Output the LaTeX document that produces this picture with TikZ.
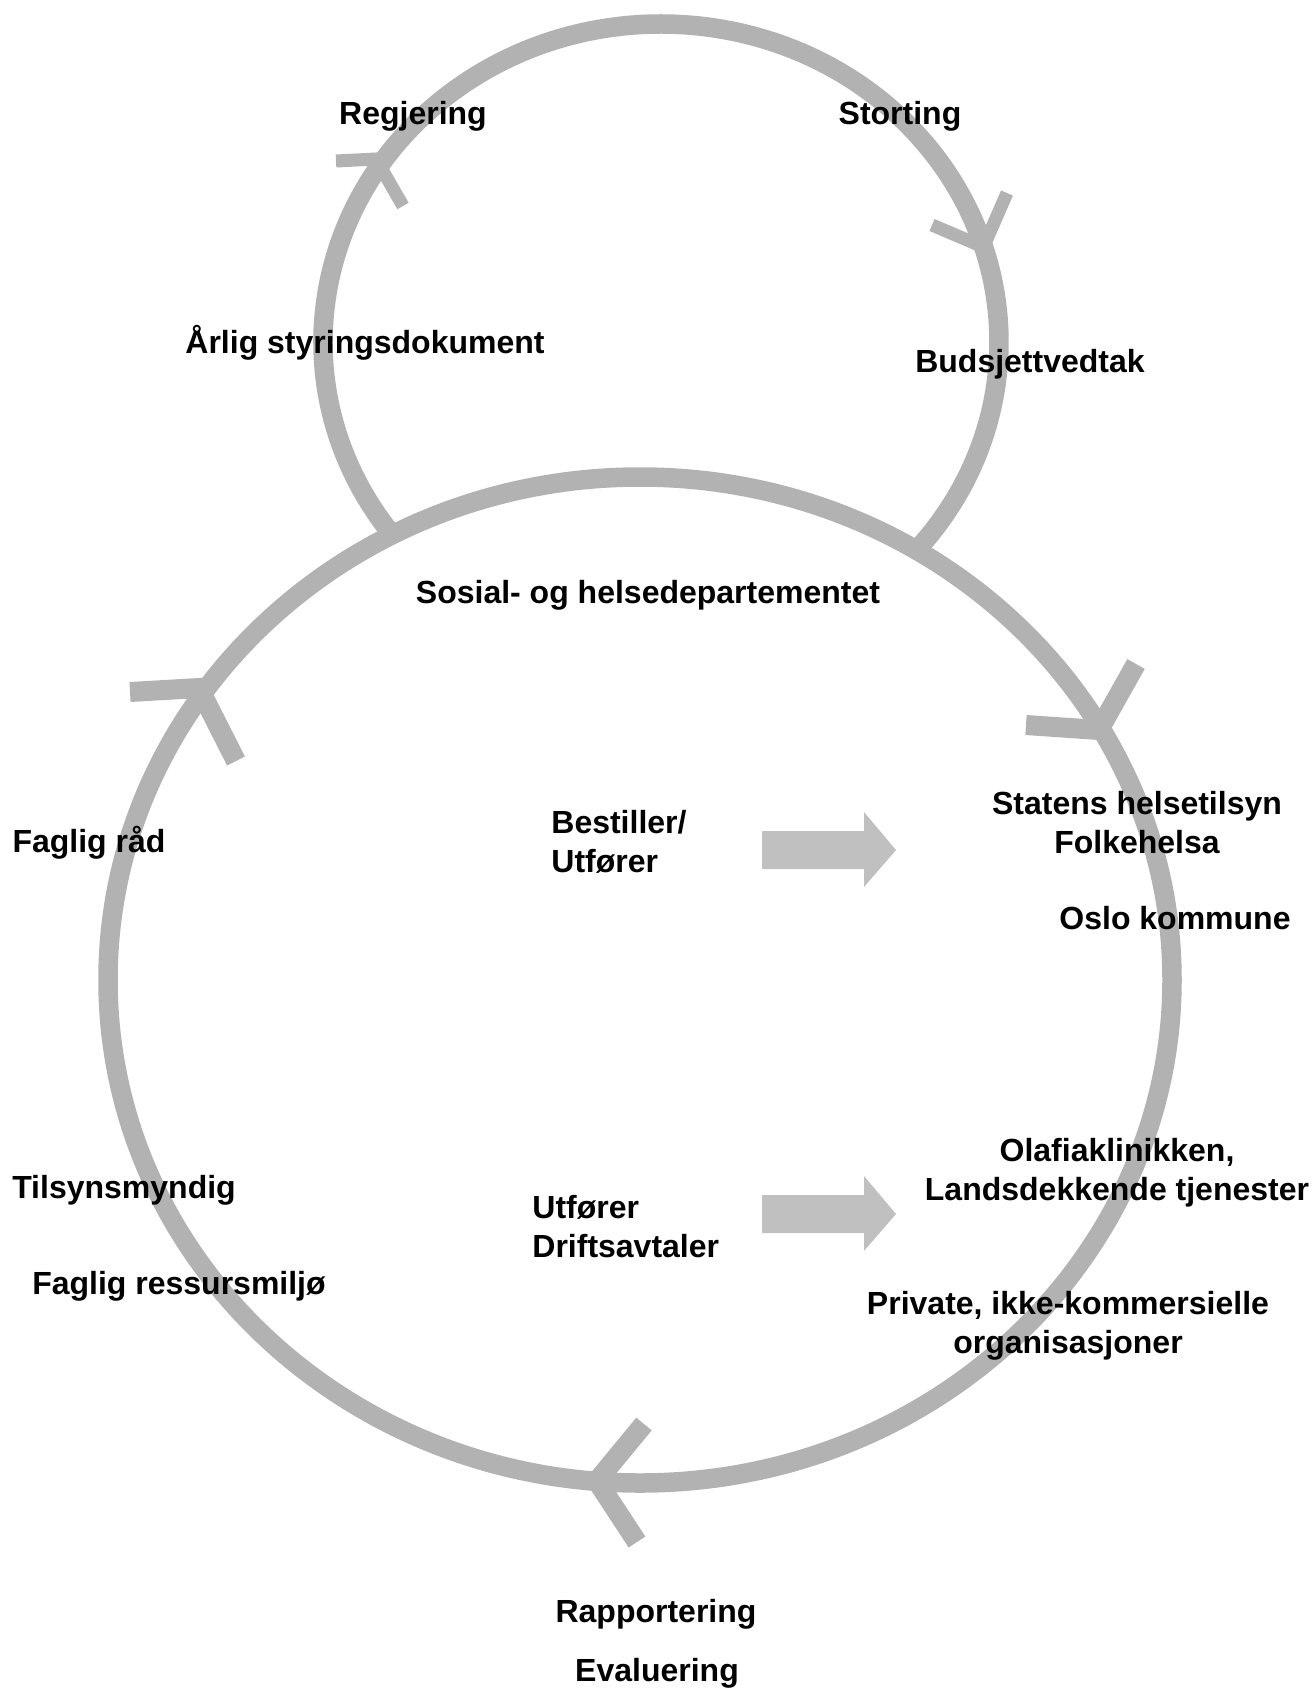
\documentclass[tikz,border=0pt]{standalone}
\usepackage{fontspec}
\setmainfont{Liberation Sans}
\definecolor{ringgray}{HTML}{B2B2B2}
\definecolor{arrowgray}{HTML}{C0C0C0}

\begin{document}
\begin{tikzpicture}[x=0.5pt,y=-0.5pt,
  ring/.style={draw=ringgray,line width=9.75pt},
  bigchev/.style={draw=ringgray,line width=10pt,line join=miter},
  smallchev/.style={draw=ringgray,line width=6.5pt,line join=miter},
  blockarrow/.style={fill=arrowgray},
  lbl/.style={font=\fontsize{16pt}{19.5pt}\selectfont\bfseries,inner sep=0pt,anchor=base}]
\useasboundingbox (0,0) rectangle (1314,1688);
% rings
\coordinate (top) at (661,342);
\coordinate (bottom) at (640,980);
\draw[ring] (top) ++(142:338 and 318) arc[start angle=142,end angle=401,x radius=338,y radius=318];
\draw[ring] (bottom) ellipse [x radius=532,y radius=503];
% arrowheads on the rings
\draw[smallchev] (336,161) -- (376,159) -- (403,206);
\draw[smallchev] (1007,193) -- (983.5,247) -- (932,225);
\draw[bigchev] (130,692) -- (199,688) -- (236,761);
\draw[bigchev] (1136,664) -- (1099,730) -- (1026,725);
\draw[bigchev] (644,1424) -- (597,1481) -- (637,1542);
% block arrows
\foreach \y in {850,1214}
  \fill[blockarrow] (762,\y-19) -- (864,\y-19) -- (864,\y-38) -- (896,\y)
    -- (864,\y+37) -- (864,\y+19) -- (762,\y+19) -- cycle;
% labels (two-line ones sit on the baseline of their last line)
\node[lbl] (regjering) at (413,124) {Regjering};
\node[lbl] (storting) at (900,124) {Storting};
\node[lbl] (styring) at (365,353) {Årlig styringsdokument};
\node[lbl] (budsjett) at (1030,372) {Budsjettvedtak};
\node[lbl] (dep) at (648,603) {Sosial- og helsedepartementet};
\node[lbl] (fagligraad) at (89,852) {Faglig råd};
\node[lbl,anchor=base west,align=left] (bestiller) at (551,872) {Bestiller/\\Utfører};
\node[lbl,align=center] (tilsyn) at (1137,853) {Statens helsetilsyn\\Folkehelsa};
\node[lbl] (oslo) at (1175,929) {Oslo kommune};
\node[lbl,align=center] (olafia) at (1117,1200) {Olafiaklinikken,\\Landsdekkende tjenester};
\node[lbl] (tilsynsm) at (124,1198) {Tilsynsmyndig};
\node[lbl,anchor=base west,align=left] (utforer) at (532,1257) {Utfører\\Driftsavtaler};
\node[lbl] (ressurs) at (179,1294) {Faglig ressursmiljø};
\node[lbl,align=center] (private) at (1068,1353) {Private, ikke-kommersielle\\organisasjoner};
\node[lbl] (rapport) at (656,1622) {Rapportering};
\node[lbl] (evaluering) at (657,1681) {Evaluering};
\end{tikzpicture}
\end{document}
